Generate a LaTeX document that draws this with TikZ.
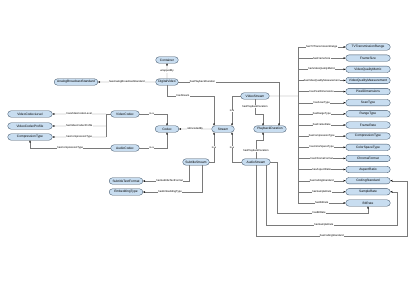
\documentclass[tikz,border=0pt]{standalone}
\usepackage{fontspec}
\setmainfont{Liberation Sans}
\usepackage{tikz}
\usetikzlibrary{arrows.meta,shapes.misc,calc}
\definecolor{clsfill}{HTML}{C8DDF0}
\definecolor{clsdraw}{HTML}{3E5368}
\definecolor{edgegray}{HTML}{7A7A7A}

\begin{document}
\begin{tikzpicture}[x=0.05cm, y=-0.05cm, font=\fontsize{4.6}{5}\selectfont,
  cls/.style={draw=clsdraw, fill=clsfill, rounded rectangle, line width=0.5pt, inner sep=1pt, minimum height=3.2mm, minimum width=#1},
  cls/.default=15mm,
  lbl/.style={fill=white, inner sep=0.4pt, font=\fontsize{3.8}{4}\selectfont},
  link/.style={draw=edgegray, line width=0.45pt},
  arr/.style={link, -{Stealth[length=1.1mm, width=0.9mm, color=black]}}]
\useasboundingbox (0,0) rectangle (420,288);
\node[cls=12mm] (container) at (167,60) {Container};
\node[cls=12mm] (digvid) at (167,82) {DigitalVideo};
\node[cls=22.5mm] (analog) at (76,82) {AnalogBroadcastStandard};
\node[cls=12.5mm] (codec) at (167,129) {Codec};
\node[cls=12mm] (stream) at (223,129) {Stream};
\node[cls=17mm] (playdur) at (270,129) {PlaybackDuration};
\node[cls=15mm] (vstream) at (255,96) {VideoStream};
\node[cls=15mm] (astream) at (256,162) {AudioStream};
\node[cls=14mm] (substream) at (196,162) {SubtitleStream};
\node[cls=17.5mm] (subfmt) at (126,181) {SubtitleTextFormat};
\node[cls=17.5mm] (embtype) at (126,192) {EmbeddingType};
\node[cls=15mm] (vcodec) at (125,114) {VideoCodec};
\node[cls=15mm] (acodec) at (125,148) {AudioCodec};
\node[cls=23mm] (vclevel) at (30,114) {VideoCodecLevel};
\node[cls=23mm] (vcprofile) at (30,126) {VideoCodecProfile};
\node[cls=23mm] (comptype) at (30,137) {CompressionType};
\node[cls=23mm] (tvrange) at (368,47) {TVTransmissionRange};
\node[cls=23mm] (framesize) at (368,58.1) {FrameSize};
\node[cls=23mm] (vqmetric) at (368,69.3) {VideoQualityMetric};
\node[cls=23mm] (vqmeas) at (368,80.4) {VideoQualityMeasurement};
\node[cls=23mm] (pixdim) at (368,91.6) {PixelDimensions};
\node[cls=23mm] (scantype) at (368,102.7) {ScanType};
\node[cls=23mm] (rangetype) at (368,113.8) {RangeType};
\node[cls=23mm] (framerate) at (368,125) {FrameRate};
\node[cls=23mm] (vcomptype) at (368,136.1) {CompressionType};
\node[cls=23mm] (colorspace) at (368,147.3) {ColorSpaceType};
\node[cls=23mm] (chroma) at (368,158.4) {ChromaFormat};
\node[cls=23mm] (aspect) at (368,169.5) {AspectRatio};
\node[cls=23mm] (codingstd) at (368,180.7) {CodingStandard};
\node[cls=23mm] (samplerate) at (368,191.8) {SampleRate};
\node[cls=23mm] (bitrate) at (368,203) {BitRate};
\coordinate (vsbus) at (298,96);
\coordinate (vcbus) at (106,114);
\draw[arr] (digvid) -- node[lbl]{wrappedBy} (container);
\draw[arr] (digvid) -- node[lbl]{hasAnalogBroadcastStandard} (analog);
\draw[arr] (digvid.east) -| node[lbl, pos=0.12]{hasPlaybackDuration} ([xshift=4.5mm]playdur.north);
\draw[arr] (digvid.south) -- (digvid.south |- vstream) -| node[lbl, pos=0.17]{hasStream} ([xshift=-4.5mm]stream.north);
\draw[arr] (stream) -- node[lbl]{isEncodedBy} (codec);
\draw[arr] (vcodec) -| node[lbl, pos=0.22]{is-a} (codec);
\draw[arr] (acodec) -| node[lbl, pos=0.22]{is-a} (codec);
\draw[arr] (vstream) -| node[lbl, pos=0.75]{is-a} ([xshift=4.5mm]stream.north);
\draw[arr] (substream) -| node[lbl, pos=0.75]{is-a} ([xshift=-4.5mm]stream.south);
\draw[arr] (astream) -| node[lbl, pos=0.75]{is-a} ([xshift=4.5mm]stream.south);
\draw[arr] (vstream.south) -- node[lbl]{hasPlaybackDuration} ++(0,15) -| ([xshift=-3.5mm]playdur.north);
\draw[arr] (astream.north) -- node[lbl, pos=0.45]{hasPlaybackDuration} ++(0,-18) -| ([xshift=-3.5mm]playdur.south);
\draw[link] (vstream) -- (vsbus);
\draw[link] (tvrange.west -| vsbus) -- (bitrate.west -| vsbus);
\draw[arr] (tvrange.west -| vsbus) -- node[lbl]{hasTVTransmissionRange} (tvrange);
\draw[arr] (framesize.west -| vsbus) -- node[lbl]{hasFrameSize} (framesize);
\draw[arr] (vqmetric.west -| vsbus) -- node[lbl]{hasVideoQualityMetric} (vqmetric);
\draw[arr] (vqmeas.west -| vsbus) -- node[lbl]{hasVideoQualityMeasurement} (vqmeas);
\draw[arr] (pixdim.west -| vsbus) -- node[lbl]{hasPixelDimensions} (pixdim);
\draw[arr] (scantype.west -| vsbus) -- node[lbl]{hasScanType} (scantype);
\draw[arr] (rangetype.west -| vsbus) -- node[lbl]{hasRangeType} (rangetype);
\draw[arr] (framerate.west -| vsbus) -- node[lbl]{hasFrameRate} (framerate);
\draw[arr] (vcomptype.west -| vsbus) -- node[lbl]{hasCompressionType} (vcomptype);
\draw[arr] (colorspace.west -| vsbus) -- node[lbl]{hasColorSpaceType} (colorspace);
\draw[arr] (chroma.west -| vsbus) -- node[lbl]{hasChromaFormat} (chroma);
\draw[arr] (aspect.west -| vsbus) -- node[lbl]{hasAspectRatio} (aspect);
\draw[arr] (codingstd.west -| vsbus) -- node[lbl]{hasCodingStandard} (codingstd);
\draw[arr] (samplerate.west -| vsbus) -- node[lbl]{hasSampleRate} (samplerate);
\draw[arr] (bitrate.west -| vsbus) -- node[lbl]{hasBitRate} (bitrate);
\draw[link] (vcodec) -- (vcbus);
\draw[link] (vcbus) -- (comptype.east -| vcbus);
\draw[arr] (vclevel.east -| vcbus) -- node[lbl]{hasVideoCodecLevel} (vclevel);
\draw[arr] (vcprofile.east -| vcbus) -- node[lbl]{hasVideoCodecProfile} (vcprofile);
\draw[arr] (comptype.east -| vcbus) -- node[lbl]{hasCompressionType} (comptype);
\draw[arr] (acodec) -| node[lbl, pos=0.25]{hasCompressionType} (comptype);
\draw[arr] ([xshift=-3.5mm]substream.south) |- node[lbl, pos=0.71]{hasSubtitleTextFormat} (subfmt);
\draw[arr] ([xshift=3mm]substream.south) |- node[lbl, pos=0.77]{hasEmbeddingType} (embtype);
\draw[arr] (astream.east) -| ++(7,51) -| node[lbl, pos=0.23]{hasBitRate} (bitrate.south);
\draw[arr] ([xshift=5mm]astream.south) -- ++(0,59.8) -| node[lbl, pos=0.22]{hasSampleRate} ([xshift=3.5mm]samplerate.east) -- (samplerate.east);
\draw[arr] (astream.south) -- ++(0,70.8) -| node[lbl, pos=0.25]{hasCodingStandard} ([xshift=8.5mm]codingstd.east) -- (codingstd.east);
\end{tikzpicture}
\end{document}
